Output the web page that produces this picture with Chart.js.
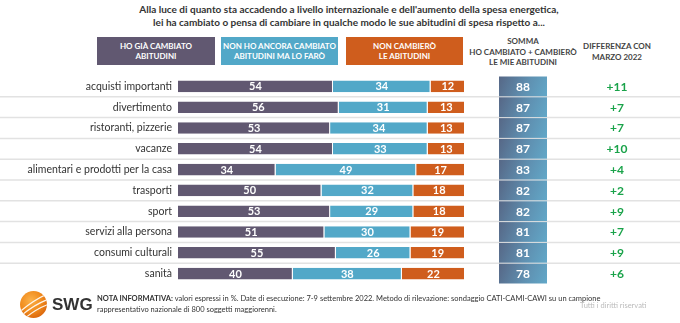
<!DOCTYPE html>
<html>
<head>
<meta charset="utf-8">
<script src="https://cdn.jsdelivr.net/npm/chart.js@4/dist/chart.umd.min.js"></script>
<style>
  html, body { margin: 0; padding: 0; background: #fff; }
  body { width: 680px; height: 323px; position: relative; overflow: hidden; font-family: Lato, "Open Sans", sans-serif; color: #333; }
  #title { position: absolute; top: 3px; left: 0; width: 698px; text-align: center; font-weight: bold; font-size: 10px; line-height: 13px; color: #333; }
  .hbox { position: absolute; top: 37px; height: 28px; color: #fff; font-weight: bold; font-size: 8px; line-height: 10px; text-align: center; display: flex; align-items: center; justify-content: center; }
  .hcap { position: absolute; color: #444; font-weight: bold; font-size: 8px; line-height: 10.5px; text-align: center; }
  #chartWrap { position: absolute; left: 0; top: 0; width: 680px; height: 323px; }
  #note { position: absolute; left: 97px; top: 294px; font-size: 7.5px; line-height: 10.5px; color: #333; }
  #rights { position: absolute; left: 580px; top: 301px; font-size: 7.5px; color: #bbb; }
  #logo { position: absolute; left: 19px; top: 290px; }
  #swg { position: absolute; left: 52px; top: 295px; font-size: 17px; font-weight: 900; color: #333; font-family: "Liberation Sans", Arial, sans-serif; }
</style>
</head>
<body>
<div id="title">Alla luce di quanto sta accadendo a livello internazionale e dell'aumento della spesa energetica,<br>lei ha cambiato o pensa di cambiare in qualche modo le sue abitudini di spesa rispetto a...</div>

<div id="legendBoxes"></div>
<div class="hcap" style="left:468px; width:110px; top:36px;">SOMMA<br>HO CAMBIATO + CAMBIERÒ<br>LE MIE ABITUDINI</div>
<div class="hcap" style="left:570px; width:94px; top:41px;">DIFFERENZA CON<br>MARZO 2022</div>

<div id="chartWrap"><canvas id="c" width="680" height="323"></canvas></div>

<svg id="logo" width="29" height="29" viewBox="0 0 28 28">
  <defs>
    <radialGradient id="orb" cx="40%" cy="35%" r="70%">
      <stop offset="0%" stop-color="#fbb24a"/>
      <stop offset="60%" stop-color="#f08a1c"/>
      <stop offset="100%" stop-color="#d9640c"/>
    </radialGradient>
    <clipPath id="orbClip"><circle cx="14" cy="14" r="13"/></clipPath>
  </defs>
  <circle cx="14" cy="14" r="13" fill="url(#orb)"/>
  <g clip-path="url(#orbClip)" stroke="#fff" stroke-width="1.2" fill="none" opacity="0.9">
    <path d="M2 20 Q14 10 27 4"/>
    <path d="M3 24 Q15 14 28 9"/>
    <path d="M6 27 Q17 18 28 14"/>
  </g>
</svg>
<div id="swg">SWG</div>

<div id="note"><b>NOTA INFORMATIVA:</b> valori espressi in %. Date di esecuzione: 7-9 settembre 2022. Metodo di rilevazione: sondaggio CATI-CAMI-CAWI su un campione<br>rappresentativo nazionale di 800 soggetti maggiorenni.</div>
<div id="rights">Tutti i diritti riservati</div>

<script>
// Survey categories and answer shares (%)
const categories = [
  "acquisti importanti", "divertimento", "ristoranti, pizzerie", "vacanze",
  "alimentari e prodotti per la casa", "trasporti", "sport",
  "servizi alla persona", "consumi culturali", "sanità"
];
const giaCambiato   = [54, 56, 53, 54, 34, 50, 53, 51, 55, 40];
const cambiero      = [34, 31, 34, 33, 49, 32, 29, 30, 26, 38];
const nonCambiero   = [12, 13, 13, 13, 17, 18, 18, 19, 19, 22];
const somma         = [88, 87, 87, 87, 83, 82, 82, 81, 81, 78];
const diffMarzo     = ["+11", "+7", "+7", "+10", "+4", "+2", "+9", "+7", "+9", "+6"];

const seriesNames = ["HO GIÀ CAMBIATO<br>ABITUDINI", "NON HO ANCORA CAMBIATO<br>ABITUDINI MA LO FARÒ", "NON CAMBIERÒ<br>LE ABITUDINI"];
const seriesColors = ["#615871", "#52a8c8", "#cf5d1d"];

// Header boxes acting as the legend
const legendPos = [[97, 118], [221, 117], [346, 117]];
const lb = document.getElementById("legendBoxes");
seriesNames.forEach((n, i) => {
  const d = document.createElement("div");
  d.className = "hbox";
  d.style.left = legendPos[i][0] + "px";
  d.style.width = legendPos[i][1] + "px";
  d.style.background = seriesColors[i];
  d.innerHTML = n;
  lb.appendChild(d);
});

// Row separators spanning the full width
const rowLines = {
  id: "rowLines",
  beforeDatasetsDraw(chart) {
    const y = chart.scales.y, ctx = chart.ctx;
    ctx.save();
    ctx.strokeStyle = "#e2e2e2";
    ctx.lineWidth = 1.5;
    for (let i = 0; i < categories.length - 1; i++) {
      const py = (y.getPixelForValue(i) + y.getPixelForValue(i + 1)) / 2;
      ctx.beginPath();
      ctx.moveTo(0, py);
      ctx.lineTo(680, py);
      ctx.stroke();
    }
    ctx.restore();
  }
};

// Values inside segments, plus sum boxes and difference column
const annotations = {
  id: "annotations",
  afterDatasetsDraw(chart) {
    const ctx = chart.ctx, y = chart.scales.y;
    ctx.save();
    ctx.textAlign = "center";
    ctx.textBaseline = "middle";
    ctx.font = "bold 11px Lato, sans-serif";
    ctx.fillStyle = "#fff";
    chart.data.datasets.forEach((ds, di) => {
      chart.getDatasetMeta(di).data.forEach((bar, i) => {
        const cx = (bar.x + bar.base) / 2;
        ctx.fillText(String(ds.data[i]), cx, bar.y + 0.5);
      });
    });

    const step = y.getPixelForValue(1) - y.getPixelForValue(0);
    const bx = 499, bw = 48;
    somma.forEach((v, i) => {
      const cy = y.getPixelForValue(i);
      const top = cy - step / 2 + 0.5, h = step - 1;
      const g = ctx.createLinearGradient(bx, top, bx + bw, top + h);
      g.addColorStop(0, "#566786");
      g.addColorStop(0.55, "#5f8fb0");
      g.addColorStop(1, "#62a8c8");
      ctx.fillStyle = g;
      ctx.fillRect(bx, top, bw, h);
      ctx.fillStyle = "#fff";
      ctx.font = "bold 12px Lato, sans-serif";
      ctx.fillText(String(v), bx + bw / 2, cy + 0.5);

      ctx.fillStyle = "#1aa34a";
      ctx.font = "bold 12px Lato, sans-serif";
      ctx.fillText(diffMarzo[i], 617, cy + 0.5);
    });
    ctx.restore();
  }
};

new Chart(document.getElementById("c"), {
  type: "bar",
  data: {
    labels: categories,
    datasets: [
      { label: "Ho già cambiato abitudini", data: giaCambiato, backgroundColor: seriesColors[0] },
      { label: "Non ho ancora cambiato abitudini ma lo farò", data: cambiero, backgroundColor: seriesColors[1] },
      { label: "Non cambierò le abitudini", data: nonCambiero, backgroundColor: seriesColors[2] }
    ].map(d => Object.assign(d, {
      borderColor: "#ffffff",
      borderWidth: { left: 0, right: 1, top: 0, bottom: 0 },
      borderSkipped: false,
      categoryPercentage: 1,
      barPercentage: 0.56
    }))
  },
  options: {
    indexAxis: "y",
    responsive: false,
    devicePixelRatio: 1,
    animation: false,
    layout: { padding: { left: 0, right: 215, top: 76, bottom: 39 } },
    plugins: { legend: { display: false }, tooltip: { enabled: false } },
    scales: {
      x: { stacked: true, min: 0, max: 100, display: false },
      y: {
        stacked: true,
        grid: { display: false, drawTicks: false },
        border: { display: false },
        ticks: { color: "#333", font: { family: "Lato", size: 10.5 }, padding: 6 },
        afterFit(scale) { scale.width = 178; }
      }
    }
  },
  plugins: [rowLines, annotations]
});
</script>
</body>
</html>
